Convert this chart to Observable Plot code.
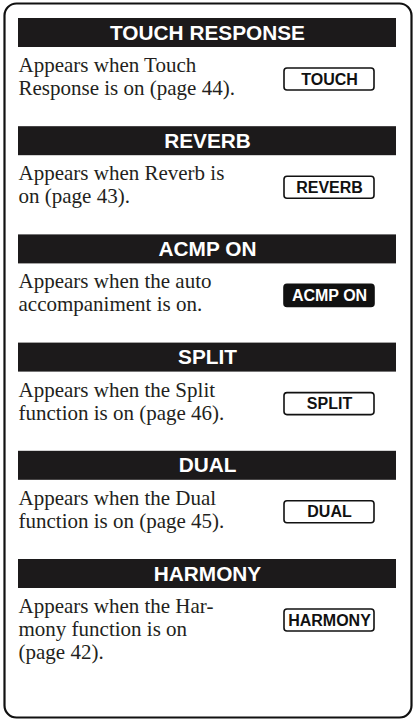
<!DOCTYPE html>
<html>
<head>
<meta charset="utf-8">
<script src="https://cdn.jsdelivr.net/npm/d3@7"></script>
<script src="https://cdn.jsdelivr.net/npm/@observablehq/plot@0.6"></script>
<style>
  html, body { margin: 0; padding: 0; background: #fff; }
  #chart svg { display: block; }
</style>
</head>
<body>
<div id="chart"></div>
<script>
// ---- content ----
const titles = ["TOUCH RESPONSE", "REVERB", "ACMP ON", "SPLIT", "DUAL", "HARMONY"];
const descriptions = [
  ["Appears when Touch", "Response is on (page 44)."],
  ["Appears when Reverb is", "on (page 43)."],
  ["Appears when the auto", "accompaniment is on."],
  ["Appears when the Split", "function is on (page 46)."],
  ["Appears when the Dual", "function is on (page 45)."],
  ["Appears when the Har-", "mony function is on", "(page 42)."]
];
const badges = ["TOUCH", "REVERB", "ACMP ON", "SPLIT", "DUAL", "HARMONY"];
const badgeFilled = [false, false, true, false, false, false];

// ---- layout (page units = pixels) ----
const W = 414, H = 719;
const L = {
  top: 18, step: 108.2, barH: 29, barX1: 18, barX2: 396,
  textX: 18, line1: 53.5, lineH: 23,
  badgeX1: 284, badgeX2: 374, badgeTop: 50, badgeH: 22
};

const sections = titles.map((t, i) => ({i, title: t, top: L.top + i * L.step}));
const lines = descriptions.flatMap((ls, i) => ls.map((s, j) => ({s, y: L.top + i * L.step + L.line1 + j * L.lineH})));
const badgeData = badges.map((b, i) => ({b, filled: badgeFilled[i], top: L.top + i * L.step + L.badgeTop}));

const chart = Plot.plot({
  width: W, height: H,
  margin: 0,
  x: {domain: [0, W], range: [0, W], axis: null},
  y: {domain: [0, H], range: [0, H], axis: null},
  style: {background: "#fff"},
  marks: [
    Plot.frame({stroke: "#111", strokeWidth: 2.2, rx: 12, insetLeft: 4, insetTop: 3, insetRight: 3, insetBottom: 2}),
    Plot.rect(sections, {x1: L.barX1, x2: L.barX2, y1: d => d.top, y2: d => d.top + L.barH, fill: "#1c1a1b"}),
    Plot.text(sections, {x: (L.barX1 + L.barX2) / 2, y: d => d.top + L.barH / 2, text: "title", fill: "#fff",
      fontFamily: "Liberation Sans, Arial, sans-serif", fontWeight: "bold", fontSize: 20.8, lineAnchor: "middle"}),
    Plot.text(lines, {x: L.textX, y: "y", text: "s", textAnchor: "start", lineAnchor: "bottom", fill: "#231f20",
      fontFamily: "Liberation Serif, Times New Roman, serif", fontSize: 21}),
    Plot.rect(badgeData, {x1: L.badgeX1, x2: L.badgeX2, y1: d => d.top, y2: d => d.top + L.badgeH,
      fill: d => d.filled ? "#111" : "#fff", stroke: "#111", strokeWidth: 1.6, rx: 3}),
    Plot.text(badgeData, {x: (L.badgeX1 + L.badgeX2) / 2, y: d => d.top + L.badgeH / 2, text: "b",
      fill: d => d.filled ? "#fff" : "#111", lineAnchor: "middle",
      fontFamily: "Liberation Sans, Arial, sans-serif", fontWeight: "bold", fontSize: 16})
  ]
});
document.getElementById("chart").appendChild(chart);
</script>
</body>
</html>
